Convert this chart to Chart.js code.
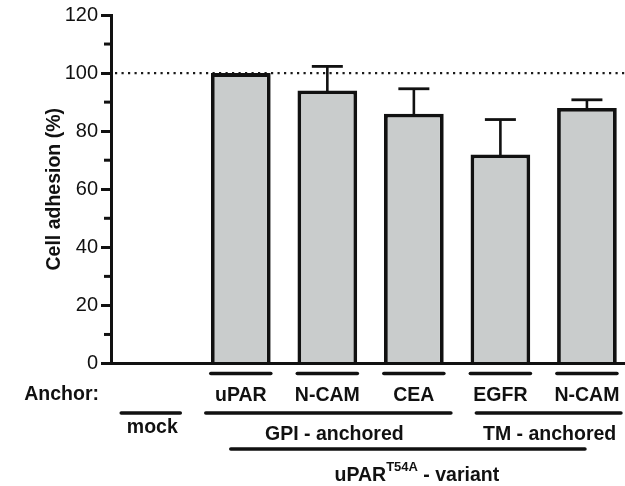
<!DOCTYPE html>
<html>
<head>
<meta charset="utf-8">
<script src="https://cdn.jsdelivr.net/npm/chart.js@4.4.1/dist/chart.umd.min.js"></script>
<style>
  html, body { margin: 0; padding: 0; background: #fff; overflow: hidden; width: 625px; height: 486px; }
  #wrap { width: 640px; height: 486px; }
</style>
</head>
<body>
<div id="wrap"><canvas id="c" width="640" height="486"></canvas></div>
<script>
// ---- data ----
const categories = ['mock', 'uPAR', 'N-CAM', 'CEA', 'EGFR', 'N-CAM'];
const tickLabels = ['', 'uPAR', 'N-CAM', 'CEA', 'EGFR', 'N-CAM'];
const adhesion = [0, 100, 94, 86, 72, 88];
const errorUp = [0, 0, 8.3, 8.6, 12, 2.8];
const referenceLevel = 100;
const yMin = 0, yMax = 120, yMajorStep = 20, yMinorStep = 10;
const yTitle = 'Cell adhesion (%)';
const rowLabel = 'Anchor:';
const mockLabel = 'mock';
const groupLabels = ['GPI - anchored', 'TM - anchored'];
const groupFirst = [1, 4];
const groupLast = [3, 5];
const variantMain = 'uPAR';
const variantSup = 'T54A';
const variantRest = ' - variant';

const FONT = '"Liberation Sans", Arial, Helvetica, sans-serif';
const INK = '#111111';

const annotations = {
  id: 'annotations',
  beforeDatasetsDraw(chart) {
    const { ctx, chartArea, scales: { y } } = chart;
    const yy = y.getPixelForValue(referenceLevel);
    ctx.save();
    ctx.strokeStyle = '#1a1a1a';
    ctx.lineWidth = 2.2;
    ctx.setLineDash([2.2, 4.3]);
    ctx.beginPath();
    ctx.moveTo(chartArea.left + 4, yy);
    ctx.lineTo(chart.width, yy);
    ctx.stroke();
    ctx.restore();
  },
  afterDatasetsDraw(chart) {
    const { ctx, chartArea, scales: { x, y } } = chart;
    ctx.save();
    ctx.strokeStyle = INK;
    // minor ticks
    ctx.lineWidth = 3;
    for (let v = yMin + yMinorStep; v < yMax; v += yMajorStep) {
      const py = y.getPixelForValue(v);
      ctx.beginPath();
      ctx.moveTo(chartArea.left - 7, py);
      ctx.lineTo(chartArea.left, py);
      ctx.stroke();
    }
    // error bars
    for (let i = 0; i < adhesion.length; i++) {
      if (!errorUp[i]) continue;
      const xc = x.getPixelForValue(i);
      const y0 = y.getPixelForValue(adhesion[i]);
      const y1 = y.getPixelForValue(adhesion[i] + errorUp[i]);
      ctx.lineWidth = 2.6;
      ctx.beginPath();
      ctx.moveTo(xc, y0 + 2);
      ctx.lineTo(xc, y1);
      ctx.stroke();
      ctx.lineWidth = 2.8;
      ctx.beginPath();
      ctx.moveTo(xc - 15.5, y1);
      ctx.lineTo(xc + 15.5, y1);
      ctx.stroke();
    }
    ctx.restore();
  },
  afterDraw(chart) {
    const { ctx, chartArea, scales: { x } } = chart;
    const cx = i => x.getPixelForValue(i);
    const line = (x1, x2, yy) => {
      ctx.beginPath(); ctx.moveTo(x1, yy); ctx.lineTo(x2, yy); ctx.stroke();
    };
    ctx.save();
    ctx.strokeStyle = INK;
    ctx.fillStyle = INK;
    ctx.lineCap = 'round';
    ctx.lineWidth = 3.6;
    // underline of each anchor label
    for (let i = 1; i < categories.length; i++) line(cx(i) - 30, cx(i) + 30, 373.5);
    // mock
    line(cx(0) - 33, cx(0) + 26, 413);
    // groups
    const gStart = [-35, -24], gEnd = [37, 34];
    for (let g = 0; g < groupLabels.length; g++) {
      line(cx(groupFirst[g]) + gStart[g], cx(groupLast[g]) + gEnd[g], 413);
    }
    // variant line
    line(cx(1) - 10, cx(categories.length - 1) - 2, 449);

    ctx.textBaseline = 'alphabetic';
    ctx.font = 'bold 19.5px ' + FONT;
    ctx.textAlign = 'right';
    ctx.fillText(rowLabel, chartArea.left - 12, 400);
    ctx.textAlign = 'center';
    ctx.fillText(mockLabel, cx(0) - 2, 433);
    const gText = [6, 1];
    for (let g = 0; g < groupLabels.length; g++) {
      const mid = (cx(groupFirst[g]) + gStart[g] + cx(groupLast[g]) + gEnd[g]) / 2;
      ctx.fillText(groupLabels[g], mid + gText[g], 440);
    }
    // variant label with superscript
    const big = 'bold 19.5px ' + FONT, small = 'bold 13px ' + FONT;
    ctx.font = big; const w1 = ctx.measureText(variantMain).width, w3 = ctx.measureText(variantRest).width;
    ctx.font = small; const w2 = ctx.measureText(variantSup).width;
    const vMid = (cx(1) - 10 + cx(categories.length - 1) - 2) / 2 + 9;
    let sx = vMid - (w1 + w2 + w3) / 2;
    ctx.textAlign = 'left';
    ctx.font = big; ctx.fillText(variantMain, sx, 481); sx += w1;
    ctx.font = small; ctx.fillText(variantSup, sx, 471); sx += w2;
    ctx.font = big; ctx.fillText(variantRest, sx, 481);
    ctx.restore();
  }
};

new Chart(document.getElementById('c'), {
  type: 'bar',
  data: {
    labels: categories,
    datasets: [{
      data: adhesion,
      backgroundColor: '#c9cccc',
      borderColor: INK,
      borderWidth: 3.8,
      borderSkipped: 'start',
      barPercentage: 0.69,
      categoryPercentage: 1
    }]
  },
  options: {
    responsive: false,
    animation: false,
    devicePixelRatio: 1,
    layout: { padding: { top: 15, right: 7, left: 0, bottom: 0 } },
    plugins: { legend: { display: false }, tooltip: { enabled: false } },
    scales: {
      x: {
        grid: { display: false, drawTicks: false },
        border: { display: true, width: 3, color: INK },
        ticks: {
          color: INK,
          font: { family: FONT, size: 19.5, weight: 'bold' },
          padding: 20,
          maxRotation: 0,
          autoSkip: false,
          callback: (v, i) => tickLabels[i]
        },
        afterFit: s => { s.height = 122.5; }
      },
      y: {
        min: yMin, max: yMax,
        ticks: {
          stepSize: yMajorStep,
          color: INK,
          font: { family: FONT, size: 20 },
          padding: 3
        },
        grid: { drawOnChartArea: false, drawTicks: true, tickLength: 10, tickWidth: 3, tickColor: INK, lineWidth: 3, color: INK },
        border: { display: true, width: 3, color: INK },
        title: {
          display: true,
          text: yTitle,
          color: INK,
          font: { family: FONT, size: 19.5, weight: 'bold' },
          padding: { top: 43, bottom: 0 }
        },
        afterFit: s => { s.width = 111; }
      }
    }
  },
  plugins: [annotations]
});
</script>
</body>
</html>
